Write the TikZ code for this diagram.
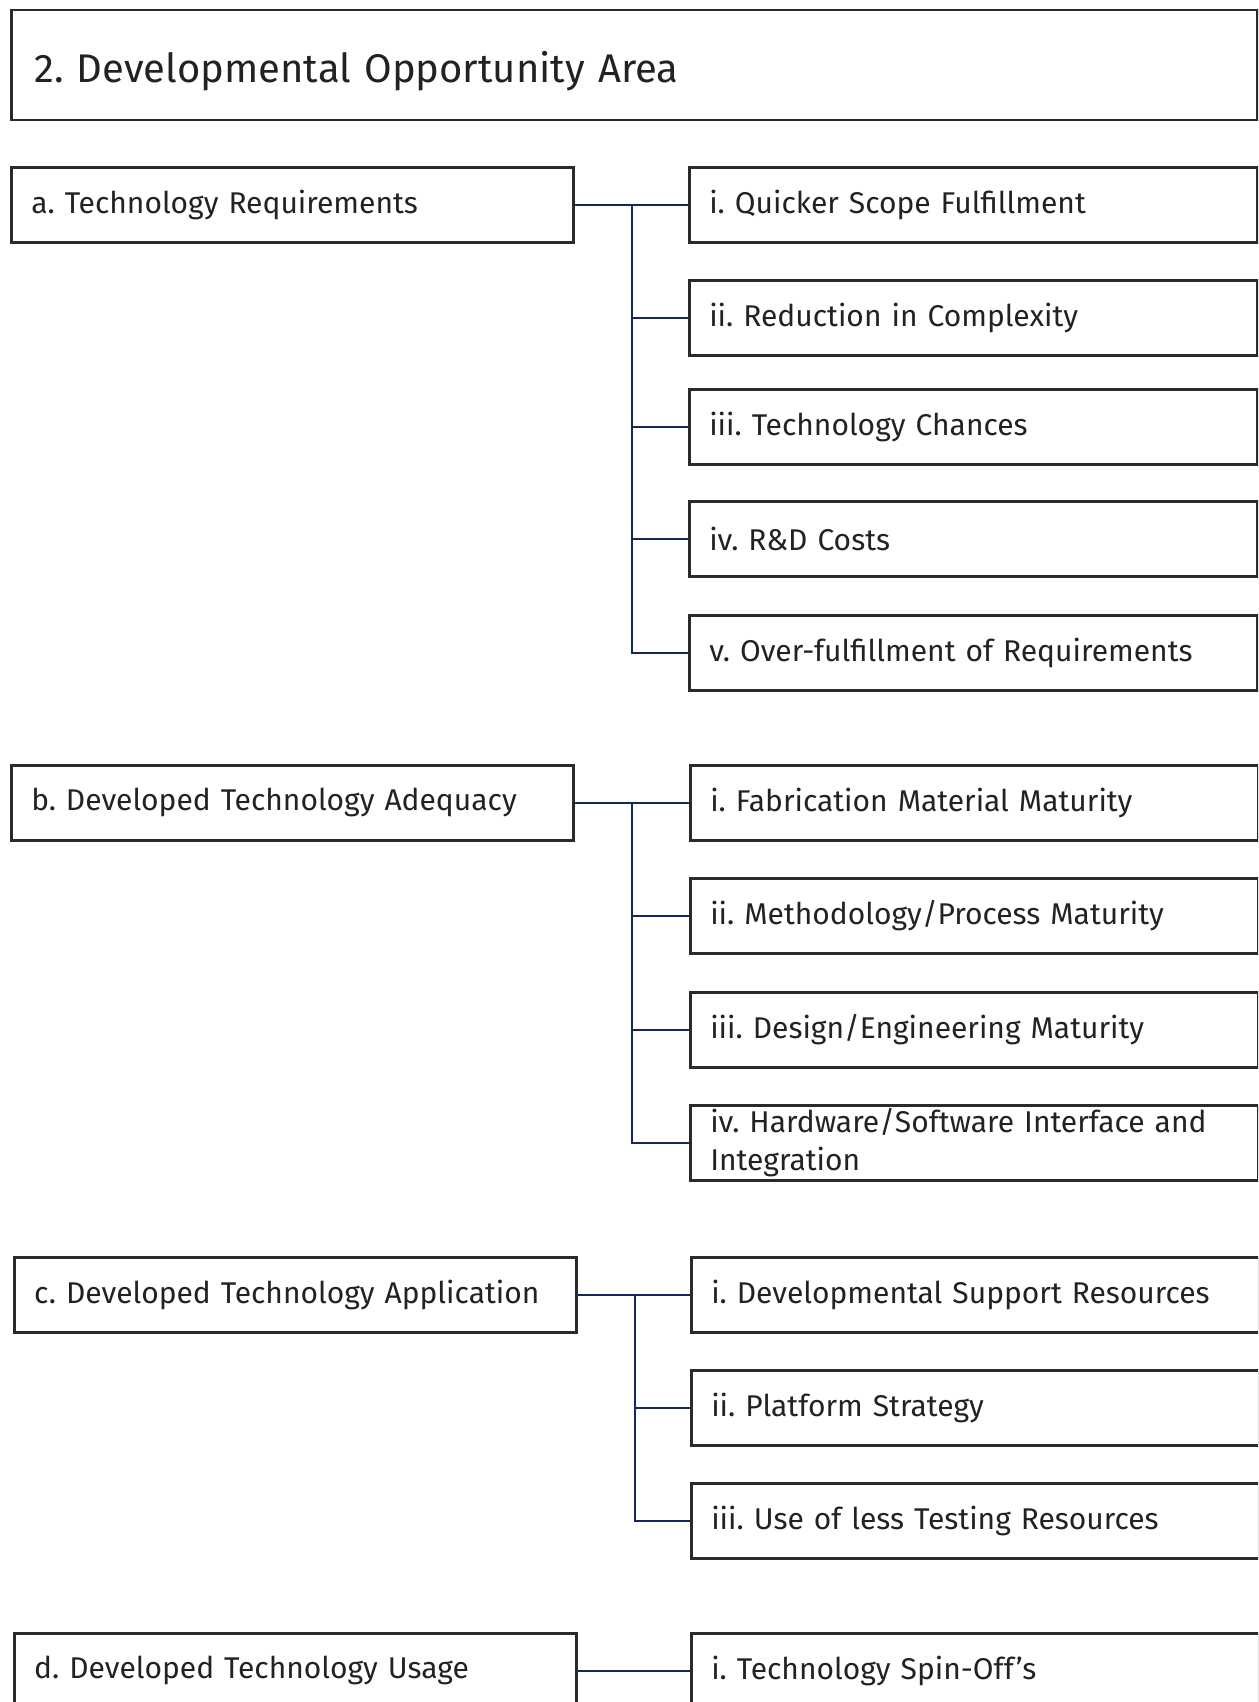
\documentclass[tikz,border=0pt]{standalone}
\usepackage{fontspec}
\setmainfont{Fira Sans}
\frenchspacing
\begin{document}
\begin{tikzpicture}[x=0.5pt,y=-0.5pt,
  boxline/.style={draw=boxgray, line width=1.25pt},
  titlebox/.style={boxline, rectangle, anchor=north west, inner xsep=11.5pt,
    text width=600pt, minimum height=55pt, align=left, text=txtgray,
    font=\fontsize{20}{24}\selectfont},
  leftbox/.style={boxline, rectangle, anchor=north west, inner xsep=10pt,
    text width=261pt, minimum height=37.5pt, align=left, text=txtgray,
    font=\fontsize{15}{19}\selectfont},
  rightbox/.style={boxline, rectangle, anchor=north west, inner xsep=10pt,
    text width=264pt, minimum height=37.5pt, align=left, text=txtgray,
    inner ysep=1pt, font=\fontsize{15}{19}\selectfont},
  link/.style={draw=linkblue, line width=1pt}]
\definecolor{boxgray}{HTML}{2A2A2A}
\definecolor{txtgray}{HTML}{222222}
\definecolor{linkblue}{HTML}{13285A}
\useasboundingbox (0,0) rectangle (1258,1702);
\clip (0,0) rectangle (1258,1702);

% heading
\node[titlebox] (title) at (10,9) {\raisebox{-3pt}[\height][\depth]{2. Developmental Opportunity Area}};

% group a
\node[leftbox] (a) at (10,166) {a. Technology Requirements};
\node[rightbox] (a1) at (688,166) {i. Quicker Scope Fulfillment};
\node[rightbox] (a2) at (688,279) {ii. Reduction in Complexity};
\node[rightbox] (a3) at (688,388) {iii. Technology Chances};
\node[rightbox] (a4) at (688,500) {iv. R\&D Costs};
\node[rightbox] (a5) at (688,614) {v. Over-fulfillment of Requirements};
\coordinate (sa) at (632,0);
\draw[link] (a.east) -- (a1.west);
\draw[link] (sa |- a1.west) |- (a5.west);
\foreach \k in {2,3,4} \draw[link] (sa |- a\k.west) -- (a\k.west);

% group b
\node[leftbox] (b) at (10,764) {b. Developed Technology Adequacy};
\node[rightbox] (b1) at (689,764) {i. Fabrication Material Maturity};
\node[rightbox] (b2) at (689,877) {ii. Methodology/Process Maturity};
\node[rightbox] (b3) at (689,991) {iii. Design/Engineering Maturity};
\node[rightbox] (b4) at (689,1104) {iv. Hardware/Software Interface and\\Integration};
\coordinate (sb) at (632,0);
\draw[link] (b.east) -- (b1.west);
\draw[link] (sb |- b1.west) |- (b4.west);
\foreach \k in {2,3} \draw[link] (sb |- b\k.west) -- (b\k.west);

% group c
\node[leftbox] (c) at (13,1256) {c. Developed Technology Application};
\node[rightbox] (c1) at (690,1256) {i. Developmental Support Resources};
\node[rightbox] (c2) at (690,1369) {ii. Platform Strategy};
\node[rightbox] (c3) at (690,1482) {iii. Use of less Testing Resources};
\coordinate (sc) at (635,0);
\draw[link] (c.east) -- (c1.west);
\draw[link] (sc |- c1.west) |- (c3.west);
\draw[link] (sc |- c2.west) -- (c2.west);

% group d
\node[leftbox] (d) at (13,1632) {d. Developed Technology Usage};
\node[rightbox] (d1) at (690,1632) {i. Technology Spin-Off’s};
\draw[link] (d.east) -- (d1.west);
\end{tikzpicture}
\end{document}
